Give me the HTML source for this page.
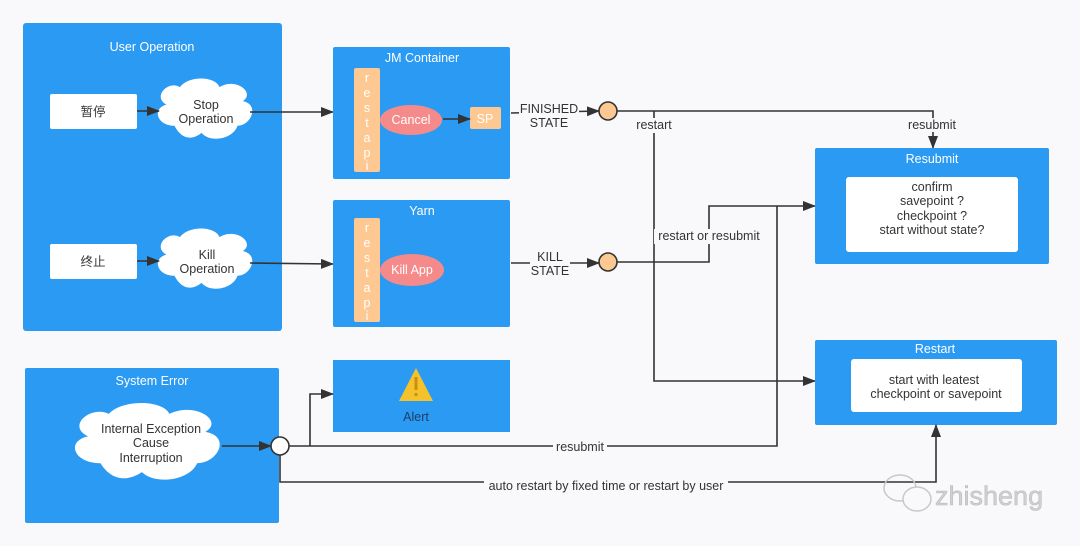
<!DOCTYPE html>
<html><head><meta charset="utf-8"><style>
html,body{margin:0;padding:0;background:#f9f9fb;}
svg{display:block;}
text{font-family:"Liberation Sans","Noto Sans CJK SC",sans-serif;font-size:12.5px;}
.w{fill:#fff;}
.t{fill:#fff;text-anchor:middle;}
.d{fill:#333;text-anchor:middle;}
.l{stroke:#333;stroke-width:1.6;fill:none;}
</style></head><body>
<svg width="1080" height="546" viewBox="0 0 1080 546">
<defs>
<marker id="a" markerWidth="13" markerHeight="10" refX="12" refY="5" orient="auto" markerUnits="userSpaceOnUse"><path d="M0,0 L13,5 L0,10 Z" fill="#333"/></marker>
<path id="cloud" d="M 25 60 C 5 60 0 40 16 36 C 0 27 18 8 31 16 C 40 3 70 3 75 16 C 93 5 115 22 101 32 C 120 36 110 60 95 60 C 90 75 65 80 55 68 C 40 80 30 70 25 60 Z"/>
</defs>
<rect width="1080" height="546" fill="#f9f9fb"/>

<!-- User Operation -->
<rect x="23" y="23" width="259" height="308" rx="3" fill="#2b9af3"/>
<text class="t" x="152" y="51">User Operation</text>
<rect x="50" y="94" width="87" height="35" rx="2" fill="#fff"/>
<text class="d" x="93" y="116">暂停</text>
<rect x="50" y="244" width="87" height="35" rx="2" fill="#fff"/>
<text class="d" x="93" y="266">终止</text>
<use href="#cloud" fill="#fff" transform="translate(152,73) scale(0.9,0.88)"/>
<text class="d" x="206" y="109">Stop</text><text class="d" x="206" y="123">Operation</text>
<use href="#cloud" fill="#fff" transform="translate(152,223) scale(0.9,0.88)"/>
<text class="d" x="207" y="259">Kill</text><text class="d" x="207" y="273">Operation</text>
<line class="l" x1="137" y1="111" x2="159" y2="111" marker-end="url(#a)"/>
<line class="l" x1="137" y1="261" x2="159" y2="261" marker-end="url(#a)"/>
<line class="l" x1="250" y1="112" x2="333" y2="112" marker-end="url(#a)"/>
<line class="l" x1="250" y1="263" x2="333" y2="264" marker-end="url(#a)"/>

<!-- JM Container -->
<rect x="333" y="47" width="177" height="132" rx="2" fill="#2b9af3"/>
<text class="t" x="422" y="62">JM Container</text>
<rect x="354" y="68" width="26" height="104" rx="2" fill="#fdc891"/>
<text class="t" x="367" y="82">r</text><text class="t" x="367" y="97">e</text><text class="t" x="367" y="112">s</text><text class="t" x="367" y="127">t</text><text class="t" x="367" y="142">a</text><text class="t" x="367" y="157">p</text><text class="t" x="367" y="170">i</text>
<ellipse cx="411" cy="120" rx="31" ry="15" fill="#f58a8a"/>
<text class="t" x="411" y="124">Cancel</text>
<rect x="470" y="107" width="31" height="22" rx="2" fill="#fdc891"/>
<text class="t" x="485" y="123">SP</text>
<line class="l" x1="443" y1="119" x2="470" y2="119" marker-end="url(#a)"/>

<!-- Yarn -->
<rect x="333" y="200" width="177" height="127" rx="2" fill="#2b9af3"/>
<text class="t" x="422" y="215">Yarn</text>
<rect x="354" y="218" width="26" height="104" rx="2" fill="#fdc891"/>
<text class="t" x="367" y="232">r</text><text class="t" x="367" y="247">e</text><text class="t" x="367" y="262">s</text><text class="t" x="367" y="277">t</text><text class="t" x="367" y="292">a</text><text class="t" x="367" y="307">p</text><text class="t" x="367" y="320">i</text>
<ellipse cx="412" cy="270" rx="32" ry="16" fill="#f58a8a"/>
<text class="t" x="412" y="274">Kill App</text>

<!-- connectors to circles -->
<line class="l" x1="511" y1="113" x2="599" y2="111" marker-end="url(#a)"/>
<rect x="519" y="101" width="60" height="30" fill="#f9f9fb"/>
<text class="d" x="549" y="113">FINISHED</text><text class="d" x="549" y="127">STATE</text>
<circle cx="608" cy="111" r="9" fill="#fdc891" stroke="#333" stroke-width="1.6"/>
<line class="l" x1="511" y1="263" x2="599" y2="263" marker-end="url(#a)"/>
<rect x="530" y="250" width="40" height="28" fill="#f9f9fb"/>
<text class="d" x="550" y="261">KILL</text><text class="d" x="550" y="275">STATE</text>
<circle cx="608" cy="262" r="9" fill="#fdc891" stroke="#333" stroke-width="1.6"/>

<polyline class="l" points="617,111 933,111 933,148" marker-end="url(#a)"/>
<rect x="904" y="118" width="58" height="14" fill="#f9f9fb"/>
<text class="d" x="932" y="129">resubmit</text>
<polyline class="l" points="654,111 654,381 815,381" marker-end="url(#a)"/>
<rect x="633" y="118" width="42" height="15" fill="#f9f9fb"/>
<text class="d" x="654" y="129">restart</text>
<polyline class="l" points="617,262 709,262 709,206 815,206" marker-end="url(#a)"/>
<rect x="654" y="229" width="110" height="15" fill="#f9f9fb"/>
<text class="d" x="709" y="240">restart or resubmit</text>

<!-- Resubmit -->
<rect x="815" y="148" width="234" height="116" rx="2" fill="#2b9af3"/>
<text class="t" x="932" y="163">Resubmit</text>
<rect x="846" y="177" width="172" height="75" rx="3" fill="#fff"/>
<text class="d" x="932" y="191">confirm</text>
<text class="d" x="932" y="205">savepoint ?</text>
<text class="d" x="932" y="220">checkpoint ?</text>
<text class="d" x="932" y="234">start without state?</text>

<!-- Restart -->
<rect x="815" y="340" width="242" height="85" rx="2" fill="#2b9af3"/>
<text class="t" x="935" y="353">Restart</text>
<rect x="851" y="359" width="171" height="53" rx="3" fill="#fff"/>
<text class="d" x="934" y="384">start with leatest</text>
<text class="d" x="936" y="398">checkpoint or savepoint</text>

<!-- System Error -->
<rect x="25" y="368" width="254" height="155" rx="2" fill="#2b9af3"/>
<text class="t" x="152" y="385">System Error</text>
<use href="#cloud" fill="#fff" transform="translate(66,396) scale(1.38,1.12)"/>
<text class="d" x="151" y="433">Internal Exception</text>
<text class="d" x="151" y="447">Cause</text>
<text class="d" x="151" y="462">Interruption</text>
<line class="l" x1="222" y1="446" x2="271" y2="446" marker-end="url(#a)"/>

<!-- Alert -->
<rect x="333" y="360" width="177" height="72" fill="#2b9af3"/>
<path d="M416,368 L433,401 L399,401 Z" fill="#f6c22c"/>
<rect x="414.5" y="377" width="3" height="13" fill="#c9900f"/><rect x="414.5" y="393" width="3" height="3" fill="#c9900f"/>
<text x="416" y="421" fill="#1c3e66" text-anchor="middle">Alert</text>

<polyline class="l" points="289,446 777,446 777,206"/>
<polyline class="l" points="310,446 310,394 333,394" marker-end="url(#a)"/>
<rect x="553" y="440" width="54" height="14" fill="#f9f9fb"/>
<text class="d" x="580" y="451">resubmit</text>
<polyline class="l" points="280,455 280,482 936,482 936,425" marker-end="url(#a)"/>
<rect x="484" y="478" width="244" height="15" fill="#f9f9fb"/>
<text class="d" x="606" y="490">auto restart by fixed time or restart by user</text>
<circle cx="280" cy="446" r="9" fill="#fff" stroke="#333" stroke-width="1.6"/>

<!-- watermark -->
<g fill="none" stroke="#c8c8c8" stroke-width="1.5">
<ellipse cx="900" cy="488" rx="16" ry="13"/>
<ellipse cx="917" cy="499" rx="14" ry="12" fill="#f9f9fb"/>
</g>
<text x="935" y="505" fill="#d0d0d0" stroke="#bdbdbd" stroke-width="0.6" style="font-size:27px;">zhisheng</text>
</svg>
</body></html>
